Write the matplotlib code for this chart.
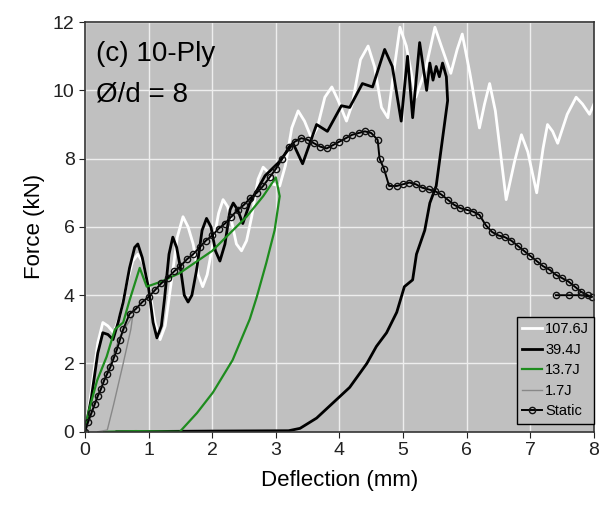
import numpy as np
import matplotlib
matplotlib.use('Agg')
import matplotlib.pyplot as plt

plt.rcParams['font.family'] = ['Liberation Sans', 'DejaVu Sans']

# 107.6J impact (white)
x_1076 = [0, 0.1, 0.2, 0.28, 0.36, 0.45, 0.55, 0.65, 0.75, 0.83, 0.91, 1.0, 1.1, 1.18, 1.26,
          1.35, 1.45, 1.54, 1.62, 1.7, 1.78, 1.85, 1.92, 2.0, 2.1, 2.17, 2.24, 2.3, 2.38,
          2.46, 2.54, 2.62, 2.72, 2.8, 2.88, 2.96, 3.06, 3.15, 3.25, 3.35, 3.45, 3.56, 3.65,
          3.77, 3.88, 3.98, 4.11, 4.2, 4.33, 4.45, 4.55, 4.66, 4.76, 4.85, 4.95, 5.05, 5.2,
          5.35, 5.5, 5.6, 5.75, 5.85, 5.93, 6.05, 6.2, 6.28, 6.36, 6.45, 6.62, 6.75, 6.86,
          6.96, 7.1, 7.2, 7.27, 7.35, 7.43, 7.58, 7.72, 7.82, 7.93, 8.0]
f_1076 = [0, 1.2, 2.6, 3.2, 3.1, 2.9, 3.4, 4.3, 5.0, 5.2, 4.95, 4.3, 3.2, 2.7, 3.1,
          4.3, 5.7, 6.3, 6.0, 5.5, 4.6, 4.25, 4.6, 5.4, 6.4, 6.8, 6.6, 6.2, 5.5,
          5.3, 5.6, 6.3, 7.4, 7.75, 7.6, 7.25, 7.2, 7.8, 8.9, 9.4, 9.1, 8.6, 8.9,
          9.8, 10.1, 9.7, 9.1, 9.6, 10.9, 11.3, 10.7, 9.5, 9.2, 10.5, 11.85, 11.3, 9.8,
          10.6, 11.85, 11.3, 10.5, 11.2, 11.65, 10.5, 8.9, 9.6, 10.2, 9.4, 6.8, 7.9, 8.7,
          8.2, 7.0, 8.3, 9.0, 8.8, 8.45, 9.3, 9.8, 9.6, 9.3, 9.6]

# 39.4J impact (black)
x_394 = [0, 0.1, 0.2, 0.28, 0.36, 0.44, 0.52, 0.6, 0.7, 0.78, 0.83, 0.9, 1.0, 1.07, 1.13,
         1.2, 1.25, 1.32, 1.38, 1.44, 1.5, 1.56, 1.62, 1.68, 1.75, 1.84, 1.91, 1.98, 2.05,
         2.12, 2.2, 2.28, 2.33, 2.4, 2.48, 2.59, 2.83, 3.05, 3.27, 3.42, 3.64, 3.81, 4.03,
         4.16, 4.36, 4.52, 4.71, 4.83, 4.97, 5.07, 5.15, 5.26, 5.37, 5.42, 5.47, 5.52, 5.57,
         5.62, 5.68, 5.7, 5.52, 5.42, 5.34, 5.21, 5.15, 5.02, 4.9, 4.74, 4.58, 4.43, 4.16,
         3.9, 3.64, 3.38, 3.2, 2.0, 0.5]
f_394 = [0, 1.0, 2.3, 2.9, 2.85, 2.7, 3.2, 3.8, 4.8, 5.4, 5.5, 5.1, 4.2, 3.2, 2.75,
         3.1, 3.9, 5.2, 5.7, 5.4, 4.8, 4.0, 3.8, 4.0, 4.7, 5.9, 6.25, 6.0, 5.3,
         5.0, 5.5, 6.5, 6.7, 6.5, 6.1, 6.7, 7.5, 7.9, 8.45, 7.85, 9.0, 8.8, 9.55,
         9.5, 10.2, 10.1, 11.2, 10.7, 9.1, 11.0, 9.2, 11.4, 10.0, 10.8, 10.3, 10.7, 10.4,
         10.8, 10.4, 9.7, 7.2, 6.7, 5.9, 5.2, 4.45, 4.25, 3.5, 2.9, 2.5, 2.0, 1.3,
         0.85, 0.4, 0.1, 0.03, 0.02, 0.0]

# 13.7J impact (green)
x_137 = [0, 0.05, 0.19, 0.34, 0.47, 0.6, 0.7, 0.86, 0.97, 1.2, 1.49, 2.0, 2.54, 2.8, 3.0,
         3.06, 2.98, 2.85, 2.7, 2.59, 2.32, 2.01, 1.76, 1.49, 0.8, 0.3]
f_137 = [0, 0.55, 1.5, 2.2, 3.0, 3.2, 3.85, 4.8, 4.25, 4.4, 4.65, 5.3, 6.3, 6.9, 7.45,
         6.9, 5.9, 4.95, 3.95, 3.3, 2.1, 1.15, 0.55, 0.0, 0.02, 0.0]

# 1.7J impact (gray)
x_17 = [0, 0.3, 0.55, 0.75, 0.72, 0.6, 0.45, 0.35, 0.2]
f_17 = [0, 1.5, 2.8, 3.4, 3.0, 2.0, 0.8, 0.05, 0.0]

# Static test
x_st = [0, 0.05, 0.1, 0.15, 0.2, 0.25, 0.3, 0.35, 0.4, 0.45, 0.5, 0.55, 0.6, 0.7, 0.8, 0.9,
        1.0, 1.1, 1.2, 1.3, 1.4, 1.5, 1.6, 1.7, 1.8, 1.9, 2.0, 2.1, 2.2, 2.3, 2.4, 2.5,
        2.6, 2.7, 2.8, 2.9, 3.0, 3.1, 3.2, 3.3, 3.4, 3.5, 3.6, 3.7, 3.8, 3.9, 4.0, 4.1,
        4.2, 4.3, 4.4, 4.5, 4.6, 4.63, 4.7, 4.78, 4.9, 5.0, 5.1, 5.2, 5.3, 5.4, 5.5, 5.6,
        5.7, 5.8, 5.9, 6.0, 6.1, 6.2, 6.3, 6.4, 6.5, 6.6, 6.7, 6.8, 6.9, 7.0, 7.1, 7.2,
        7.3, 7.4, 7.5, 7.6, 7.7, 7.8, 7.9, 7.97, 7.8, 7.6, 7.4]
f_st = [0, 0.3, 0.55, 0.8, 1.05, 1.25, 1.5, 1.7, 1.9, 2.15, 2.4, 2.7, 3.0, 3.45, 3.6, 3.8,
        3.95, 4.15, 4.35, 4.5, 4.7, 4.85, 5.05, 5.2, 5.4, 5.6, 5.75, 5.95, 6.1, 6.3, 6.5, 6.65,
        6.85, 7.0, 7.2, 7.45, 7.7, 8.0, 8.35, 8.5, 8.6, 8.55, 8.45, 8.35, 8.3, 8.4, 8.5, 8.6,
        8.7, 8.75, 8.8, 8.75, 8.55, 8.0, 7.7, 7.2, 7.2, 7.25, 7.3, 7.25, 7.15, 7.1, 7.05, 6.95,
        6.8, 6.65, 6.55, 6.5, 6.45, 6.35, 6.05, 5.85, 5.75, 5.7, 5.6, 5.45, 5.3, 5.15, 5.0, 4.85,
        4.75, 4.6, 4.5, 4.4, 4.25, 4.1, 4.0, 3.95, 4.0, 4.0, 4.0]

fig = plt.figure(figsize=(6.03, 5.14), dpi=100)
ax = fig.add_axes([0.141, 0.16, 0.844, 0.797])
ax.set_facecolor('#c0c0c0')
ax.grid(True, color='#eeeeee', lw=1.0)
ax.set_axisbelow(True)

ax.plot(x_1076, f_1076, color='white', lw=2.0, label='107.6J')
ax.plot(x_394, f_394, color='black', lw=2.0, label='39.4J')
ax.plot(x_137, f_137, color='#1e8c1e', lw=1.6, label='13.7J')
ax.plot(x_17, f_17, color='#888888', lw=1.0, label='1.7J')
ax.plot(x_st, f_st, color='black', lw=1.4, marker='o', ms=4.5, mfc='none', mec='#111111',
        mew=1.0, label='Static')

ax.set_xlim(0, 8)
ax.set_ylim(0, 12)
ax.set_xticks(range(0, 9))
ax.set_yticks(range(0, 13, 2))
ax.tick_params(labelsize=14, length=4, direction='out', colors='#222222')
for s in ax.spines.values():
    s.set_color('#333333')
    s.set_linewidth(1.2)

ax.set_xlabel('Deflection (mm)', fontsize=16, labelpad=8)
ax.set_ylabel('Force (kN)', fontsize=16, labelpad=6)

ax.text(0.022, 0.955, '(c) 10-Ply', transform=ax.transAxes, fontsize=20, va='top')
ax.text(0.022, 0.855, 'Ø/d = 8', transform=ax.transAxes, fontsize=20, va='top')

leg = ax.legend(loc='lower right', bbox_to_anchor=(1.0, 0.02), borderaxespad=0,
                fontsize=10.5, handlelength=1.4, handletextpad=0.2, labelspacing=0.45,
                borderpad=0.35, fancybox=False, framealpha=1)
leg.get_frame().set_facecolor('#c0c0c0')
leg.get_frame().set_edgecolor('black')
leg.get_frame().set_linewidth(1.0)

fig.savefig('out.png', dpi=100)
